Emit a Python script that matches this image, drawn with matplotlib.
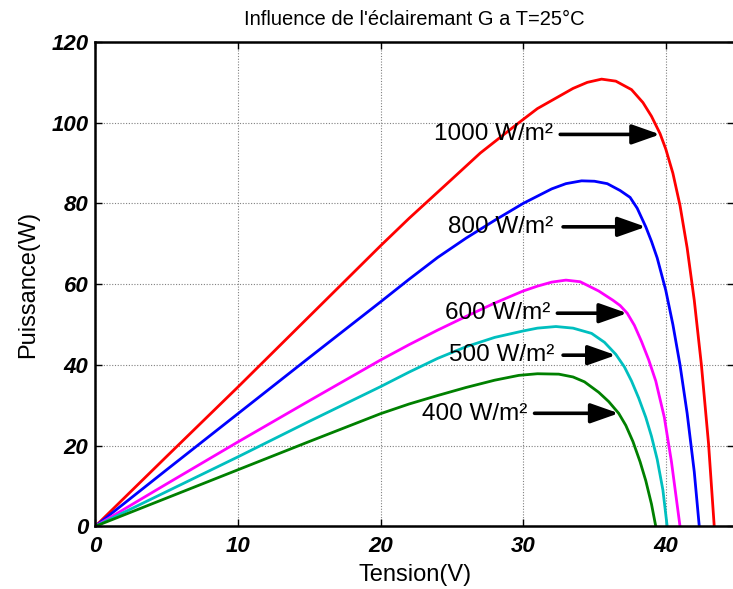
import matplotlib
matplotlib.use("Agg")
import matplotlib.pyplot as plt

plt.rcParams['font.family'] = ['Liberation Sans', 'DejaVu Sans']

# ---- data (Tension V, Puissance W) ----
v_1000 = [0, 5, 10, 15, 20, 22, 25, 27, 29.7, 31, 32.5, 33.5, 34.5, 35.5, 36.5, 37.6, 38.4, 39.0, 39.6, 40.0, 40.5, 41.0, 41.5, 42.0, 42.5, 43.0, 43.4]
p_1000 = [0, 17.3, 34.5, 52.0, 69.5, 76.3, 86.0, 92.5, 100.0, 103.5, 106.5, 108.5, 110.0, 110.8, 110.3, 108.2, 105.0, 101.6, 97.3, 93.5, 87.5, 79.5, 69.0, 56.0, 40.0, 20.5, 0]

v_800 = [0, 5, 10, 15, 20, 22, 24, 26, 28, 30, 32, 33, 34.1, 35, 35.9, 36.8, 37.5, 38.0, 38.6, 39.0, 39.4, 40.0, 40.5, 41.0, 41.5, 42.0, 42.35]
p_800 = [0, 14.0, 27.9, 41.8, 55.6, 61.2, 66.6, 71.4, 75.8, 80.0, 83.6, 84.9, 85.6, 85.5, 84.9, 83.2, 81.5, 78.8, 74.2, 70.6, 66.5, 58.5, 50.0, 40.0, 28.0, 13.5, 0]

v_600 = [0, 5, 10, 15, 20, 22, 24, 26, 28, 30, 31, 32, 33, 34, 35.3, 36.3, 36.8, 37.3, 37.8, 38.3, 38.8, 39.3, 39.9, 40.4, 41.0]
p_600 = [0, 10.5, 20.9, 31.1, 41.2, 45.0, 48.6, 52.0, 55.3, 58.3, 59.5, 60.5, 61.0, 60.6, 58.3, 56.0, 54.7, 52.8, 49.8, 45.8, 41.3, 36.0, 27.0, 16.0, 0]

v_500 = [0, 5, 10, 15, 20, 22, 24, 26, 28, 30, 31, 32.3, 33.5, 34.8, 35.7, 36.5, 37.1, 37.6, 38.1, 38.6, 39.0, 39.4, 39.8, 40.1]
p_500 = [0, 8.6, 17.2, 26.0, 34.6, 38.2, 41.6, 44.5, 46.8, 48.4, 49.1, 49.5, 49.1, 47.8, 45.6, 42.6, 39.5, 36.0, 31.8, 27.0, 22.3, 16.6, 9.0, 0]

v_400 = [0, 5, 10, 15, 20, 22, 24, 26, 28, 29.7, 31, 32.5, 33.5, 34.3, 35.3, 36.0, 36.7, 37.2, 37.7, 38.2, 38.6, 39.0, 39.3]
p_400 = [0, 7.0, 14.0, 21.0, 27.9, 30.3, 32.4, 34.4, 36.2, 37.4, 37.8, 37.7, 37.0, 35.8, 33.2, 30.9, 28.0, 25.0, 21.0, 16.0, 11.3, 5.5, 0]

labels = ['1000 W/m²', '800 W/m²', '600 W/m²', '500 W/m²', '400 W/m²']
xticks = [0, 10, 20, 30, 40]
yticks = [0, 20, 40, 60, 80, 100, 120]

series = [(v_1000, p_1000, '#FF0000'), (v_800, p_800, '#0000FF'),
          (v_600, p_600, '#FF00FF'), (v_500, p_500, '#00BFBF'),
          (v_400, p_400, '#008000')]

# annotation placement: (text right x, text y, arrow tail x, arrow tip x, arrow tip y)
ann_pos = [(32.1, 97.2, 32.6, 39.6, 97.1),
           (32.1, 74.2, 32.8, 38.6, 74.2),
           (31.9, 52.8, 32.4, 37.3, 52.8),
           (32.2, 42.4, 32.8, 36.5, 42.4),
           (30.3, 27.8, 30.8, 36.7, 28.0)]

W, H = 733, 589
fig = plt.figure(figsize=(W / 100, H / 100), dpi=100)
ax = fig.add_axes([95.3 / W, (H - 526.3) / H, (734.2 - 95.3) / W, (526.3 - 42.0) / H])

for v, p, c in series:
    ax.plot(v, p, color=c, lw=2.0, solid_joinstyle='round')

for lab, (tx, ty, ax0, tipx, tipy) in zip(labels, ann_pos):
    ax.text(tx, ty, lab, ha='right', va='center', fontsize=17.5, color='black')
    ax.annotate('', xy=(tipx, tipy), xytext=(ax0, tipy),
                arrowprops=dict(arrowstyle='-|>,head_length=1.7,head_width=0.6',
                                lw=2.6, color='black', shrinkA=0, shrinkB=0,
                                mutation_scale=10))

ax.set_xlim(0, 44.8)
ax.set_ylim(0, 120)
ax.set_xticks(xticks)
ax.set_yticks(yticks)
ax.set_xticklabels([str(t) for t in xticks], fontsize=16, fontweight='bold', fontstyle='italic')
ax.set_yticklabels([str(t) for t in yticks], fontsize=16, fontweight='bold', fontstyle='italic')
ax.tick_params(axis='both', direction='in', length=5, width=1.0, top=True, right=True)
ax.tick_params(axis='x', pad=7)
ax.tick_params(axis='y', pad=5)
ax.grid(True, color='#808080', linestyle=(0, (1, 1.5)), linewidth=0.8)
for s in ax.spines.values():
    s.set_linewidth(1.8)

ax.set_xlabel('Tension(V)', fontsize=17, labelpad=5)
ax.set_ylabel('Puissance(W)', fontsize=17, labelpad=9)
ax.set_title("Influence de l'éclairemant G a T=25°C", fontsize=14.5, pad=12)

fig.savefig('out.png', dpi=100)
